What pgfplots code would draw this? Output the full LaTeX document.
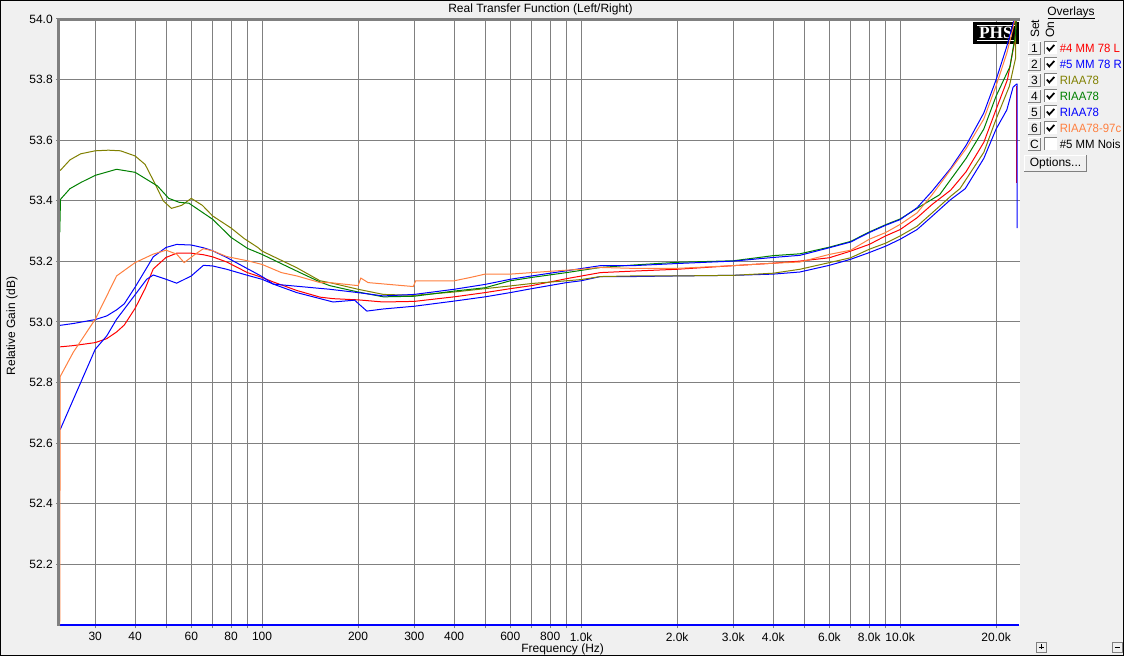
\documentclass[border=0pt]{standalone}
\usepackage{pgfplots}
\pgfplotsset{compat=1.18}
\usepackage{fontspec}
\setmainfont{Liberation Sans}
\newfontfamily\serifb{Liberation Serif}
\definecolor{bgc}{HTML}{F0F0F0}
\definecolor{gridc}{HTML}{808080}
\definecolor{olivec}{HTML}{808000}
\definecolor{greenc}{HTML}{008000}
\definecolor{orangec}{HTML}{FF8040}
\definecolor{bluec}{HTML}{0000FF}
\definecolor{redc}{HTML}{FF0000}
\newcommand\legrow[5]{%
  \fill[bgc] (1028,#1-6.5) rectangle (1041,#1+6.5);
  \draw[white,line width=0.75pt] (1028.4,#1+6.1) -- (1028.4,#1-6.1) -- (1040.6,#1-6.1);
  \draw[gridc,line width=0.75pt] (1040.6,#1-6.1) -- (1040.6,#1+6.1) -- (1028.4,#1+6.1);
  \node[inner sep=0pt] at (1034.5,#1) {#2};
  \fill[white] (1044.5,#1-6) rectangle (1056.5,#1+6);
  \draw[gridc,line width=0.75pt] (1044.5,#1+6) -- (1044.5,#1-6) -- (1056.5,#1-6);
  #5
  \node[anchor=west,inner sep=0pt,text=#3,xscale=0.95] at (1059.5,#1) {#4};
}
\newcommand\chk[1]{\draw[black,line width=1.3pt] (1046.8,#1-0.5) -- (1049.3,#1+2.5) -- (1054.3,#1-3);}
\begin{document}
\fontsize{9}{11}\selectfont
\begin{tikzpicture}
\useasboundingbox (0pt,0pt) rectangle (843pt,492pt);
\fill[bgc] (0pt,0pt) rectangle (843pt,492pt);
\begin{axis}[
  at={(44.625pt,23.25pt)}, anchor=south west,
  scale only axis, width=720pt, height=454.5pt,
  xmode=log, xmin=23.18, xmax=23670, ymin=52, ymax=54,
  xtick={30,40,50,60,70,80,90,100,200,300,400,500,600,700,800,900,1000,2000,3000,4000,5000,6000,7000,8000,9000,10000,20000},
  xticklabels={30,40,,60,,80,,100,200,300,400,,600,,800,,1.0k,2.0k,3.0k,4.0k,,6.0k,,8.0k,,10.0k,20.0k},
  minor xtick={},
  ytick={52.2,52.4,52.6,52.8,53.0,53.2,53.4,53.6,53.8,54.0},
  yticklabels={52.2,52.4,52.6,52.8,53.0,53.2,53.4,53.6,53.8,54.0},
  grid=major, major grid style={draw=gridc, line width=0.75pt},
  tick align=outside, major tick length=2.6pt, tick style={draw=gridc, line width=0.75pt},
  xtick pos=bottom, ytick pos=left,
  axis line style={draw=none},
  ticklabel style={font=\fontsize{9}{11}\selectfont, inner sep=0pt},
  xticklabel style={anchor=north, yshift=-2.9pt},
  yticklabel style={anchor=east, xshift=-2.3pt},
  axis background/.style={fill=white},
  clip=false,
  every axis plot/.append style={line width=0.75pt, mark=none},
]
% PHS logo (behind the curves)
\fill[black] (rel axis cs:0.9516,0.9587) rectangle (rel axis cs:0.9995,0.995);
\draw[white,line width=0.75pt] (rel axis cs:0.9557,0.9893) -- (rel axis cs:0.9953,0.9893);
\draw[white,line width=0.75pt] (rel axis cs:0.9557,0.9645) -- (rel axis cs:0.9953,0.9645);
\node[text=white,inner sep=0pt,font=\fontsize{13}{13}\selectfont\serifb\bfseries] at (rel axis cs:0.9755,0.9769) {PHS};

% bottom blue line
\addplot[bluec, line width=1.1pt] coordinates {(23.18,52.0) (23500,52.0)};

% 1: #4 MM 78 L (red)
\addplot[redc] coordinates {(23.25,52.33) (23.25,52.41)};
\addplot[redc] coordinates {
(23.3,52.918) (25.6,52.922) (30,52.932) (32.6,52.945) (35,52.967) (37,52.99) (40,53.045) (43,53.11) (45.6,53.175) (50,53.213) (54,53.227) (60,53.227) (65.5,53.222) (70,53.215) (77.5,53.198) (90,53.163) (100,53.147) (108.5,53.132) (128.5,53.104) (152,53.082) (167,53.077) (200,53.073) (240,53.066) (300,53.068) (400,53.083) (500,53.097) (600,53.11) (700,53.12) (900,53.143) (1150,53.163) (1460,53.168) (2000,53.174) (3000,53.186) (4000,53.194) (4850,53.201) (6000,53.212) (7000,53.234) (8000,53.256) (9000,53.284) (10000,53.305) (11300,53.344) (12600,53.388) (14400,53.435) (16100,53.496) (18300,53.593) (20000,53.702) (21700,53.80) (22900,53.93) (23100,54.0)};
\addplot[redc] coordinates {(23200,53.78) (23200,53.46)};

% 2: #5 MM 78 R (blue)
\addplot[bluec] coordinates {
(23.3,52.989) (25.6,52.995) (30,53.008) (32.6,53.02) (35,53.04) (37,53.06) (40,53.115) (43,53.17) (45.6,53.215) (50,53.246) (54,53.256) (60,53.254) (65.5,53.245) (70,53.235) (77.5,53.213) (90,53.176) (100,53.15) (108.5,53.125) (128.5,53.097) (167,53.066) (195,53.072) (213,53.036) (240,53.043) (300,53.052) (400,53.069) (500,53.083) (600,53.097) (700,53.11) (900,53.13) (1000,53.136) (1150,53.15) (1460,53.15) (2000,53.152) (3000,53.154) (4000,53.158) (4850,53.165) (6000,53.187) (7000,53.207) (8000,53.229) (9000,53.25) (10000,53.273) (11300,53.305) (12600,53.349) (14400,53.404) (16000,53.44) (18300,53.54) (20000,53.637) (21600,53.70) (22600,53.775) (23150,53.785) (23260,53.785) (23260,53.31)};

% 3: RIAA78 (olive)
\addplot[olivec] coordinates {
(23.3,53.50) (25,53.535) (27,53.555) (30,53.565) (33,53.567) (36,53.565) (40,53.548) (43,53.52) (46,53.46) (49,53.40) (52,53.375) (56,53.385) (60,53.408) (65,53.385) (70,53.35) (80,53.31) (88,53.275) (97,53.246) (100,53.234) (128.5,53.179) (152,53.136) (163,53.13) (200,53.108) (240,53.091) (300,53.088) (400,53.099) (500,53.11) (600,53.119) (700,53.127) (900,53.136) (1000,53.14) (1150,53.15) (1460,53.152) (2000,53.152) (3000,53.154) (4000,53.161) (4850,53.174) (6000,53.196) (7000,53.212) (8000,53.24) (9000,53.26) (10000,53.284) (11300,53.316) (12600,53.36) (14400,53.415) (15400,53.44) (18300,53.56) (20000,53.67) (22000,53.778) (23000,53.87) (23050,54.0)};

% 4: RIAA78 (green)
\addplot[greenc] coordinates {
(23.22,53.296) (23.35,53.405) (25,53.44) (27,53.46) (30,53.484) (35,53.504) (40,53.494) (47,53.449) (51,53.408) (55,53.395) (59,53.392) (70,53.339) (80,53.279) (90,53.243) (100,53.223) (128.5,53.168) (152,53.132) (163,53.12) (200,53.099) (240,53.083) (300,53.085) (400,53.102) (500,53.113) (600,53.136) (700,53.147) (900,53.163) (1150,53.18) (1460,53.188) (2000,53.197) (3000,53.202) (4000,53.219) (4850,53.225) (6000,53.247) (7000,53.266) (8000,53.297) (9000,53.321) (10000,53.34) (11300,53.375) (13300,53.42) (16100,53.54) (18300,53.637) (20000,53.746) (22100,53.843) (23000,53.95) (23100,54.0)};

% 5: RIAA78 (blue)
\addplot[bluec] coordinates {
(23.3,52.645) (25.6,52.744) (30,52.91) (32.6,52.954) (35,53.009) (40,53.09) (43.5,53.141) (45.6,53.155) (50,53.141) (54,53.128) (60,53.152) (65.5,53.187) (70,53.185) (77.5,53.174) (90,53.154) (100,53.141) (108.5,53.125) (128.5,53.118) (163,53.108) (200,53.097) (240,53.086) (300,53.091) (400,53.108) (500,53.124) (600,53.141) (700,53.152) (900,53.169) (1150,53.186) (1460,53.186) (2000,53.193) (3000,53.201) (4000,53.213) (4850,53.22) (6000,53.245) (7000,53.264) (8000,53.295) (9000,53.319) (10000,53.338) (11300,53.377) (12600,53.432) (14400,53.507) (16100,53.583) (18300,53.69) (20000,53.8) (21600,53.91) (22600,53.985) (22800,54.0)};

% 6: RIAA78-97c (orange)
\addplot[orangec] coordinates {
(23.22,52.0) (23.3,52.82) (25.6,52.90) (30,53.009) (32.6,53.086) (35,53.152) (40,53.196) (45.6,53.224) (50,53.237) (54,53.224) (57,53.196) (62,53.225) (65.5,53.242) (70,53.235) (77.5,53.216) (90,53.202) (100,53.19) (115,53.163) (128.5,53.152) (152,53.13) (163,53.13) (200,53.12) (204,53.145) (215,53.13) (298,53.117) (303,53.136) (400,53.136) (450,53.147) (500,53.158) (600,53.158) (700,53.163) (900,53.171) (1000,53.174) (1150,53.18) (1460,53.177) (2000,53.177) (3000,53.186) (4000,53.194) (4850,53.198) (6000,53.223) (7000,53.237) (8000,53.273) (9000,53.295) (10000,53.322) (11300,53.36) (12600,53.42) (16100,53.572) (18300,53.67) (20000,53.78) (21600,53.887) (22600,53.97) (22900,54.0)};
\end{axis}
\begin{scope}[x=0.75pt, y=-0.75pt, shift={(0pt,492pt)}]
% axis frame (left and top)
\draw[gridc,line width=2.25pt] (58.3,626) -- (58.3,19.6) -- (1019.5,19.6);
% texts
\node[inner sep=0pt] at (540.4,9.5) {Real Transfer Function (Left/Right)};
\node[inner sep=0pt] at (562.6,649) {Frequency (Hz)};
\node[inner sep=0pt,rotate=90] at (12,326) {Relative Gain (dB)};
% overlays panel
\node[inner sep=0pt] at (1071,12.5) {Overlays};
\draw[black,line width=0.75pt] (1047.5,18.5) -- (1094.5,18.5);
\node[inner sep=0pt,rotate=90] at (1035,29) {Set};
\node[inner sep=0pt,rotate=90] at (1050,30) {On};
\legrow{48}{1}{redc}{\#4 MM 78 L}{\chk{48}}
\legrow{64}{2}{bluec}{\#5 MM 78 R}{\chk{64}}
\legrow{80}{3}{olivec}{RIAA78}{\chk{80}}
\legrow{96}{4}{greenc}{RIAA78}{\chk{96}}
\legrow{112}{5}{bluec}{RIAA78}{\chk{112}}
\legrow{128}{6}{orangec}{RIAA78-97c}{\chk{128}}
\legrow{144}{C}{black}{\#5 MM Nois}{}
% options button
\fill[bgc] (1024,155) rectangle (1087,172);
\draw[white,line width=0.75pt] (1024.4,171.6) -- (1024.4,155.4) -- (1086.6,155.4);
\draw[gridc,line width=0.75pt] (1086.6,155.4) -- (1086.6,171.6) -- (1024.4,171.6);
\node[inner sep=0pt] at (1055.5,163.5) {Options...};
% small +/- buttons
\fill[bgc] (1036,642) rectangle (1046,652);
\draw[gridc,line width=0.6pt] (1036,642) rectangle (1046,652);
\draw[black,line width=0.6pt] (1038.5,647) -- (1043.5,647) (1041,644.5) -- (1041,649.5);
\fill[bgc] (1112,642) rectangle (1122,652);
\draw[gridc,line width=0.6pt] (1112,642) rectangle (1122,652);
\draw[black,line width=0.6pt] (1114.5,647) -- (1119.5,647);
% outer border
\draw[black,line width=1.2pt] (0.5,0.5) rectangle (1123.5,655.5);
\end{scope}
\end{tikzpicture}
\end{document}
